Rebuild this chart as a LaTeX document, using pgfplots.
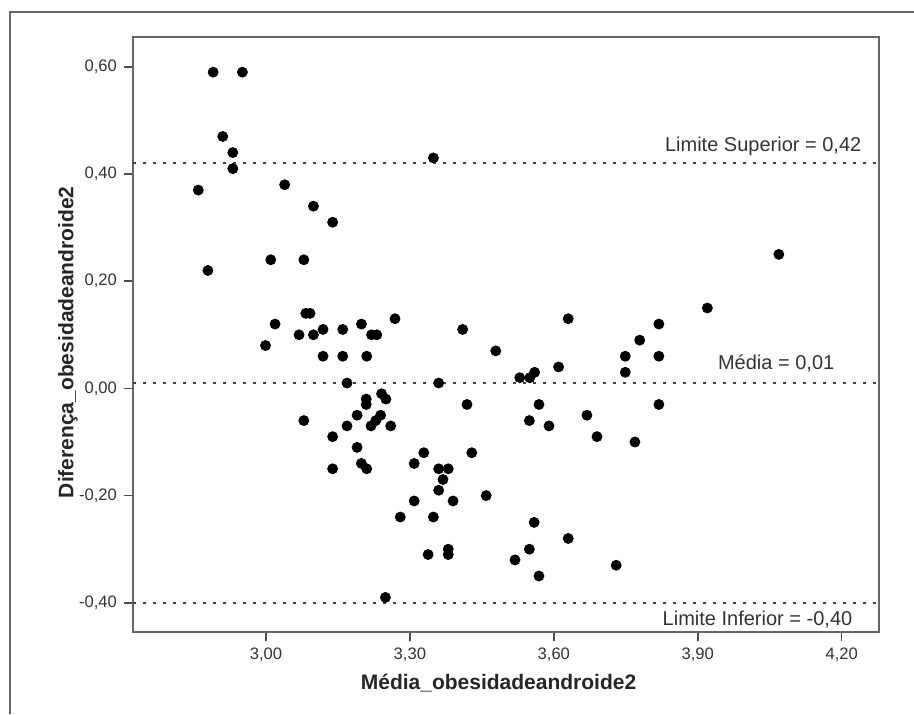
\documentclass[border=0pt]{standalone}
\usepackage{pgfplots}
\pgfplotsset{compat=1.18}
\usepackage{fontspec}
\setmainfont{Liberation Sans}
\begin{document}
\begin{tikzpicture}[x=1pt,y=1pt]
\path[use as bounding box] (0,0) rectangle (457,357);
\draw[line width=0.9pt, black!60] (5,0) -- (5,351) -- (457,351);
\begin{axis}[
  at={(66.5pt,41pt)}, anchor=south west,
  width=373pt, height=297.5pt, scale only axis,
  xmin=2.7229, xmax=4.2778, ymin=-0.4545, ymax=0.6556,
  axis line style={black!60, line width=1pt},
  xtick={3.0,3.3,3.6,3.9,4.2},
  xticklabels={{3,00},{3,30},{3,60},{3,90},{4,20}},
  ytick={-0.4,-0.2,0,0.2,0.4,0.6},
  yticklabels={{-0,40},{-0,20},{0,00},{0,20},{0,40},{0,60}},
  tick align=outside, xtick pos=bottom, ytick pos=left,
  major tick length=4.5pt,
  tick style={black!70, line width=0.8pt},
  ticklabel style={font=\fontsize{8.3}{10}\selectfont, text=black!80},
  xlabel={Média\_obesidadeandroide2},
  ylabel={Diferença\_obesidadeandroide2},
  label style={font=\fontsize{10.5}{12}\selectfont\bfseries, text=black!85},
  xlabel style={at={(axis description cs:0.49,0)}, anchor=base, yshift=-28.5pt},
  ylabel style={at={(axis description cs:-0.0871,0.487)}, anchor=center},
  clip=false,
]
\addplot[black!75, line width=0.9pt, dash pattern=on 1.5pt off 3.5pt] coordinates {(2.7229,0.42) (4.2778,0.42)};
\addplot[black!75, line width=0.9pt, dash pattern=on 1.5pt off 3.5pt] coordinates {(2.7229,0.01) (4.2778,0.01)};
\addplot[black!75, line width=0.9pt, dash pattern=on 1.5pt off 3.5pt] coordinates {(2.7229,-0.40) (4.2778,-0.40)};
\addplot[only marks, mark=*, mark size=2.5pt, black] coordinates {
(2.890,0.59) (2.951,0.59) (2.910,0.47) (2.931,0.44) (2.931,0.41)
(2.859,0.37) (3.039,0.38) (3.099,0.34) (3.139,0.31) (2.879,0.22)
(3.010,0.24) (3.079,0.24) (3.083,0.14) (3.092,0.14) (3.019,0.12)
(3.269,0.13) (3.069,0.10) (3.099,0.10) (3.119,0.11) (3.160,0.11)
(3.199,0.12) (3.220,0.10) (3.231,0.10)
(2.999,0.08) (3.119,0.06) (3.160,0.06) (3.210,0.06) (3.169,0.01)
(3.079,-0.06) (3.209,-0.02) (3.209,-0.03) (3.241,-0.01) (3.250,-0.02)
(3.190,-0.05) (3.239,-0.05) (3.229,-0.06) (3.219,-0.07) (3.169,-0.07)
(3.260,-0.07) (3.139,-0.09) (3.190,-0.11) (3.199,-0.14) (3.210,-0.15)
(3.139,-0.15) (3.309,-0.14) (3.329,-0.12) (3.309,-0.21) (3.280,-0.24)
(3.338,-0.31) (3.249,-0.39)
(3.349,0.43) (4.069,0.25) (3.920,0.15) (3.630,0.13) (3.410,0.11)
(3.819,0.12) (3.779,0.09) (3.479,0.07) (3.749,0.06) (3.819,0.06)
(3.749,0.03) (3.610,0.04) (3.529,0.02) (3.550,0.02) (3.560,0.03)
(3.360,0.01)
(3.419,-0.03) (3.569,-0.03) (3.819,-0.03) (3.669,-0.05) (3.549,-0.06)
(3.590,-0.07) (3.690,-0.09) (3.769,-0.10) (3.429,-0.12) (3.360,-0.15)
(3.380,-0.15) (3.369,-0.17) (3.360,-0.19) (3.459,-0.20) (3.390,-0.21)
(3.349,-0.24) (3.559,-0.25) (3.630,-0.28) (3.380,-0.30) (3.380,-0.31)
(3.549,-0.30) (3.519,-0.32) (3.730,-0.33) (3.569,-0.35)
};
\node[anchor=base east, font=\fontsize{10}{12}\selectfont, text=black!80, inner sep=0pt] at (axis cs:4.2417,0.4416) {Limite Superior = 0,42};
\node[anchor=base east, font=\fontsize{10}{12}\selectfont, text=black!80, inner sep=0pt] at (axis cs:4.1854,0.0349) {Média = 0,01};
\node[anchor=base east, font=\fontsize{10}{12}\selectfont, text=black!80, inner sep=0pt] at (axis cs:4.2229,-0.4416) {Limite Inferior = -0,40};
\end{axis}
\end{tikzpicture}
\end{document}
